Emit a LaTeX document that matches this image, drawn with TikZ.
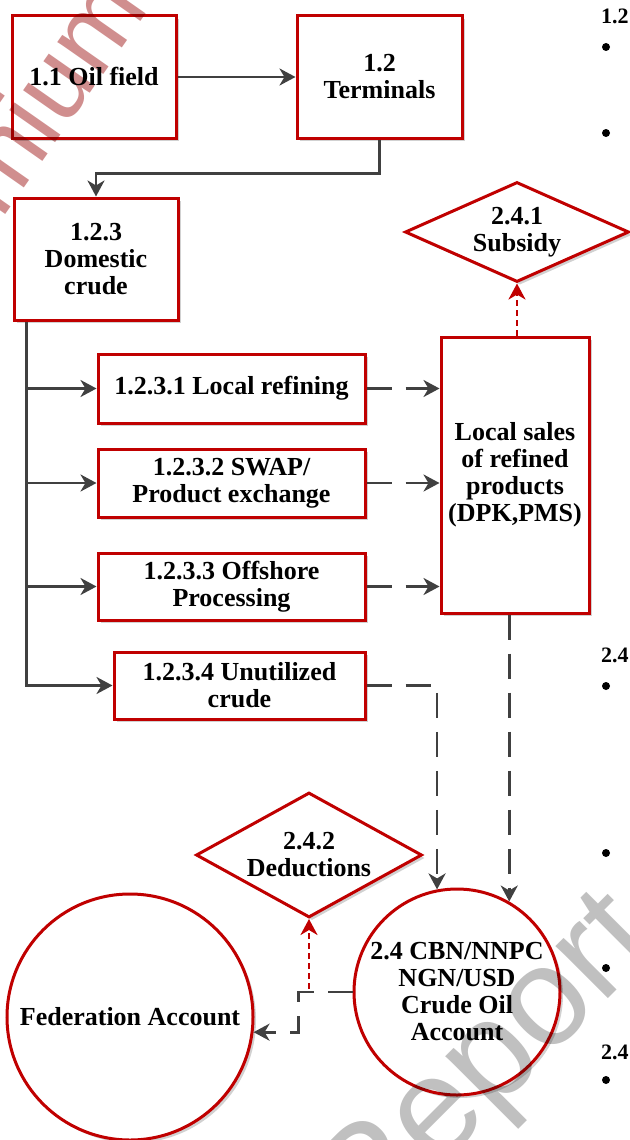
\documentclass[tikz,border=0pt]{standalone}
\usepackage{fontspec}
\setmainfont{Liberation Serif}
\newfontfamily\wmfont{Liberation Sans}
\usetikzlibrary{arrows.meta,shapes.geometric,shadows,calc}
\definecolor{bred}{HTML}{C00000}
\definecolor{lgray}{HTML}{404040}
\definecolor{wmpink}{RGB}{208,142,142}
\definecolor{wmgray}{RGB}{192,192,192}
\newcommand{\bodyfont}{\fontsize{26}{27}\selectfont\bfseries}
\begin{document}
\begin{tikzpicture}[x=1pt,y=-1pt,
  box/.style={draw=bred, line width=3pt, fill=white,
    drop shadow={shadow xshift=3pt,shadow yshift=-3pt,fill=black!18,opacity=1},
    inner sep=0pt, align=center, font=\bodyfont},
  rbox/.style={box, rectangle},
  dbox/.style={box, diamond},
  cbox/.style={box, circle},
  plain/.style={draw=lgray, line width=2.8pt},
  conn/.style={plain, -{Stealth[length=16pt,width=17pt,inset=5pt]}},
  dconn/.style={conn, dash pattern=on 25pt off 14pt},
  rdot/.style={draw=bred, line width=2.8pt, dash pattern=on 6pt off 4pt,
    -{Stealth[length=16pt,width=17pt,inset=5pt]}},
  bul/.style={circle, fill=black, inner sep=0pt, minimum size=8pt},
  side/.style={font=\fontsize{22}{24}\selectfont\bfseries, inner sep=0pt, anchor=west},
  wm/.style={inner sep=0pt}
]
\useasboundingbox (0,0) rectangle (629,1140);

% boxes
\node[rbox, minimum width=164pt, minimum height=122pt] (oil) at (94,77) {1.1 Oil field};
\node[rbox, minimum width=165pt, minimum height=122pt] (term) at (379.5,77) {1.2\\Terminals};
\node[rbox, minimum width=164pt, minimum height=122pt] (dom) at (96,259) {1.2.3\\Domestic\\crude};
\node[rbox, minimum width=267pt, minimum height=69pt] (lr) at (231.5,388.5) {1.2.3.1 Local refining};
\node[rbox, minimum width=267pt, minimum height=68pt] (swap) at (231.5,483) {1.2.3.2 SWAP/\\Product exchange};
\node[rbox, minimum width=267pt, minimum height=67pt] (off) at (231.5,586.5) {1.2.3.3 Offshore\\Processing};
\node[rbox, minimum width=251pt, minimum height=67pt] (unut) at (239.5,685.5) {1.2.3.4 Unutilized\\crude};
\node[rbox, minimum width=148pt, minimum height=276pt] (sales) at (515,475) {Local sales\\of refined\\products\\(DPK,PMS)};

% diamonds
\node[dbox, aspect=2.24, minimum width=224pt, minimum height=100pt] (sub) at (517,232) {2.4.1\\Subsidy};
\node[dbox, aspect=1.8, minimum width=226pt, minimum height=125pt] (ded) at (309,855) {2.4.2\\Deductions};

% circles
\node[cbox, minimum size=206pt,
  label={[align=center,font=\bodyfont]center:{2.4 CBN/NNPC\\NGN/USD\\Crude Oil\\Account}}] (acct) at (457,992) {};
\node[cbox, minimum size=246pt] (fed) at (130,1017) {Federation Account};

% connectors
\draw[conn] (oil.east) -- (term.west);
\draw[conn] (term.south) -- ++(0,34) -| (dom.north);
\coordinate (ttop) at ($(dom.south west)+(14,0)$);
\draw[conn] (ttop) |- (unut.west);
\foreach \b in {lr,swap,off} \draw[conn] (ttop |- \b.west) -- (\b.west);
\foreach \b in {lr,swap,off} \draw[dconn] (\b.east) -- (\b.east -| sales.west);
\draw[dconn] (unut.east) -| (acct.101.8);
\draw[dconn] (acct.60.3 |- sales.south) -- (acct.60.3);
\draw[dconn] (acct.west) -- ++(-54,0) |- (fed.-7.5);
\draw[rdot] (sales.north -| sub.south) -- (sub.south);
\draw[rdot] ($(ded.south |- acct.west)+(0,-3)$) -- (ded.south);

% right-edge fragments
\foreach \yy [count=\i] in {47,133,686,853,968,1080} \node[bul] (b\i) at (606,\yy) {};
\node[side] (s1) at (601,16) {1.2};
\node[side] (s2) at (601,655) {2.4};
\node[side] (s3) at (601,1052) {2.4};

% watermarks
\begin{scope}[blend mode=multiply]
\node[wm, text=wmpink, font=\wmfont\fontsize{106}{106}\selectfont, rotate=55, anchor=base east] (wm1) at (150,8) {Premium};
\node[wm, text=wmgray, font=\wmfont\fontsize{140}{140}\selectfont, rotate=45] (wm2) at (490,1070) {Report};
\end{scope}
\end{tikzpicture}
\end{document}
